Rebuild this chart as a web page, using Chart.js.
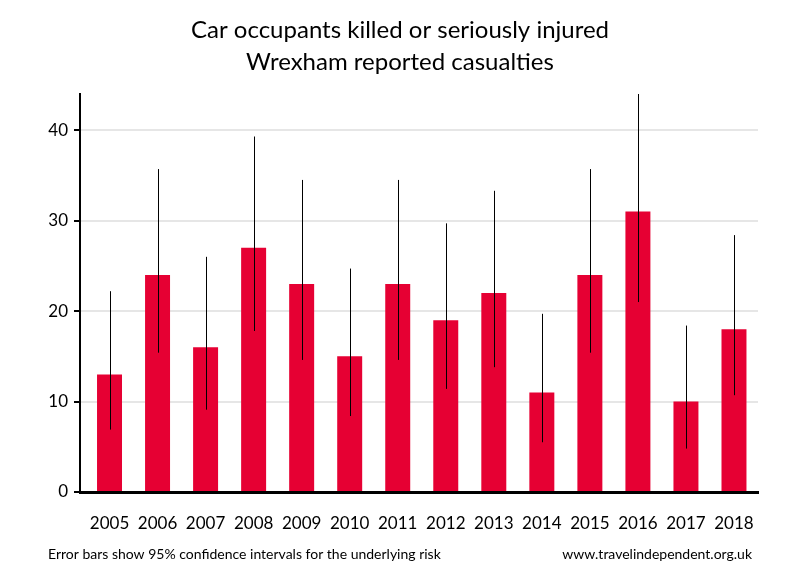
<!DOCTYPE html>
<html>
<head>
<meta charset="utf-8">
<script src="https://cdn.jsdelivr.net/npm/chart.js@4"></script>
<style>
  html, body { margin: 0; padding: 0; background: #fff; }
  #wrap { width: 800px; height: 580px; }
</style>
</head>
<body>
<div id="wrap"><canvas id="chart" width="800" height="580"></canvas></div>
<script>
// Data
const years = ['2005', '2006', '2007', '2008', '2009', '2010', '2011', '2012', '2013', '2014', '2015', '2016', '2017', '2018'];
const casualties = [13, 24, 16, 27, 23, 15, 23, 19, 22, 11, 24, 31, 10, 18];
const lowerCI = [6.9, 15.4, 9.1, 17.8, 14.6, 8.4, 14.6, 11.4, 13.8, 5.5, 15.4, 21.0, 4.8, 10.7];
const upperCI = [22.2, 35.7, 26.0, 39.3, 34.5, 24.7, 34.5, 29.7, 33.3, 19.7, 35.7, 44.0, 18.4, 28.4];
const yTicks = [0, 10, 20, 30, 40];

const titleLines = ['Car occupants killed or seriously injured', 'Wrexham reported casualties'];
const footLeft = 'Error bars show 95% confidence intervals for the underlying risk';
const footRight = 'www.travelindependent.org.uk';

const FONT = 'Lato, "Open Sans", sans-serif';

// small gap between the y axis and the first category
const shiftCategories = {
    id: 'shiftCategories',
    afterLayout(chart) {
        const x = chart.scales.x;
        x._startPixel += 5.5;
        x._length -= 5.5;
    }
};

// Error bars drawn from the scales
const errorBars = {
    id: 'errorBars',
    afterDatasetsDraw(chart) {
        const { ctx, chartArea, scales: { x, y } } = chart;
        ctx.save();
        ctx.beginPath();
        ctx.rect(chartArea.left, chartArea.top, chartArea.right - chartArea.left, chartArea.bottom - chartArea.top);
        ctx.clip();
        ctx.strokeStyle = '#000';
        ctx.lineWidth = 1;
        years.forEach((yr, i) => {
            const px = Math.round(x.getPixelForValue(i)) + 0.5;
            ctx.beginPath();
            ctx.moveTo(px, y.getPixelForValue(lowerCI[i]));
            ctx.lineTo(px, y.getPixelForValue(upperCI[i]));
            ctx.stroke();
        });
        ctx.restore();
    }
};

// Title and footer text
const texts = {
    id: 'texts',
    afterDraw(chart) {
        const ctx = chart.ctx;
        ctx.save();
        ctx.fillStyle = '#000';
        ctx.textBaseline = 'middle';
        ctx.textAlign = 'center';
        ctx.font = '24px ' + FONT;
        ctx.fillText(titleLines[0], 400, 30);
        ctx.fillText(titleLines[1], 400, 62);
        ctx.font = '14px ' + FONT;
        ctx.textAlign = 'left';
        ctx.fillText(footLeft, 48, 554);
        ctx.textAlign = 'right';
        ctx.fillText(footRight, 752, 554);
        ctx.restore();
    }
};

new Chart(document.getElementById('chart').getContext('2d'), {
    type: 'bar',
    data: {
        labels: years,
        datasets: [{
            data: casualties,
            backgroundColor: '#e60033',
            barPercentage: 0.52,
            categoryPercentage: 1
        }]
    },
    options: {
        responsive: false,
        animation: false,
        layout: { padding: { top: 94, right: 42, left: 0, bottom: 0 } },
        plugins: {
            legend: { display: false },
            title: { display: false },
            tooltip: { enabled: false }
        },
        scales: {
            x: {
                grid: { display: false },
                border: { color: '#000', width: 3 },
                ticks: {
                    color: '#000',
                    font: { family: FONT, size: 17 },
                    padding: 13,
                    maxRotation: 0
                },
                afterFit(s) { s.height = 88; }
            },
            y: {
                min: 0,
                max: 44,
                afterBuildTicks(s) { s.ticks = yTicks.map(v => ({ value: v })); },
                grid: {
                    color: '#e6e6e6',
                    lineWidth: 2,
                    tickColor: '#000',
                    tickLength: 6
                },
                border: { color: '#000', width: 2 },
                ticks: {
                    color: '#000',
                    font: { family: FONT, size: 17 },
                    padding: 6
                },
                afterFit(s) { s.width = 80; }
            }
        }
    },
    plugins: [shiftCategories, errorBars, texts]
});
</script>
</body>
</html>
